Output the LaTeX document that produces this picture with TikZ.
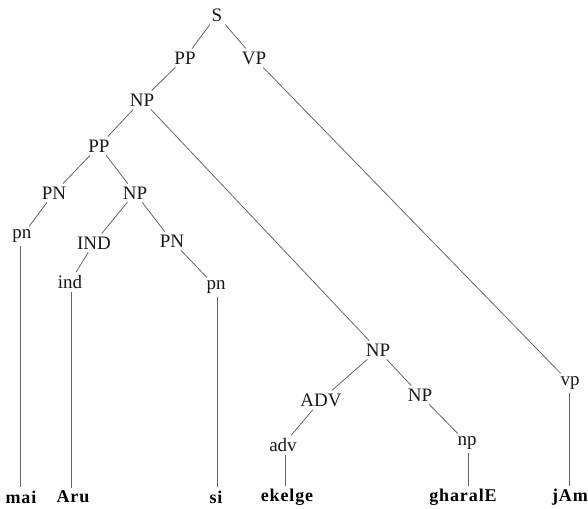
\documentclass[tikz,border=0pt]{standalone}
\usepackage{fontspec}
\setmainfont{Liberation Serif}
\newfontfamily\treefont{Liberation Serif}
\newfontfamily\leaffont[LetterSpace=5]{Liberation Serif}
\begin{document}
\begin{tikzpicture}[x=1pt,y=-1pt,
  lab/.style={font=\treefont\fontsize{19}{21}\selectfont, inner sep=3pt, text=black!90},
  leaf/.style={font=\leaffont\fontsize{18}{20}\selectfont\bfseries, inner sep=3pt},
  edge/.style={draw=black!60, line width=0.8pt}]
\useasboundingbox (0,0) rectangle (588,508);
\node[lab] (S) at (217,15) {S};
\node[lab] (PPa) at (185,58) {PP};
\node[lab] (VP) at (254,58) {VP};
\node[lab] (NPa) at (142,100) {NP};
\node[lab] (PPb) at (99,146) {PP};
\node[lab] (PNa) at (54,193) {PN};
\node[lab] (NPb) at (135,193) {NP};
\node[lab] (pna) at (22,236) {pn};
\node[lab] (IND) at (94,243) {IND};
\node[lab] (PNb) at (172,241) {PN};
\node[lab] (ind) at (70,282) {ind};
\node[lab] (pnb) at (216,287) {pn};
\node[lab] (NPc) at (378,350) {NP};
\node[lab] (ADV) at (321,400) {ADV};
\node[lab] (NPd) at (420,395) {NP};
\node[lab] (adv) at (283,445) {adv};
\node[lab] (np) at (467,443) {np};
\node[lab] (vp) at (570,383) {vp};
\node[leaf] (mai) at (21,497) {mai};
\node[leaf] (Aru) at (73,497) {Aru};
\node[leaf] (si) at (216,497) {si};
\node[leaf] (ekelge) at (287,497) {ekelge};
\node[leaf] (gharalE) at (463,497) {gharalE};
\node[leaf] (jAm) at (570,497) {jAm};
\foreach \a/\b in {S/PPa,S/VP,PPa/NPa,NPa/PPb,NPa/NPc,PPb/PNa,PPb/NPb,PNa/pna,
  NPb/IND,NPb/PNb,IND/ind,PNb/pnb,NPc/ADV,NPc/NPd,ADV/adv,NPd/np,VP/vp}
  \draw[edge] (\a) -- (\b);
\draw[edge] (pna.south -| 20,0) -- (mai.north -| 20,0);
\draw[edge] (ind.south -| 71,0) -- (Aru.north -| 71,0);
\draw[edge] (pnb.south -| 217,0) -- (si.north -| 217,0);
\draw[edge] (adv.south -| 285,0) -- (ekelge.north -| 285,0);
\draw[edge] (np.south -| 468,0) -- (gharalE.north -| 468,0);
\draw[edge] (vp.south -| 569,0) -- (jAm.north -| 569,0);
\end{tikzpicture}
\end{document}
